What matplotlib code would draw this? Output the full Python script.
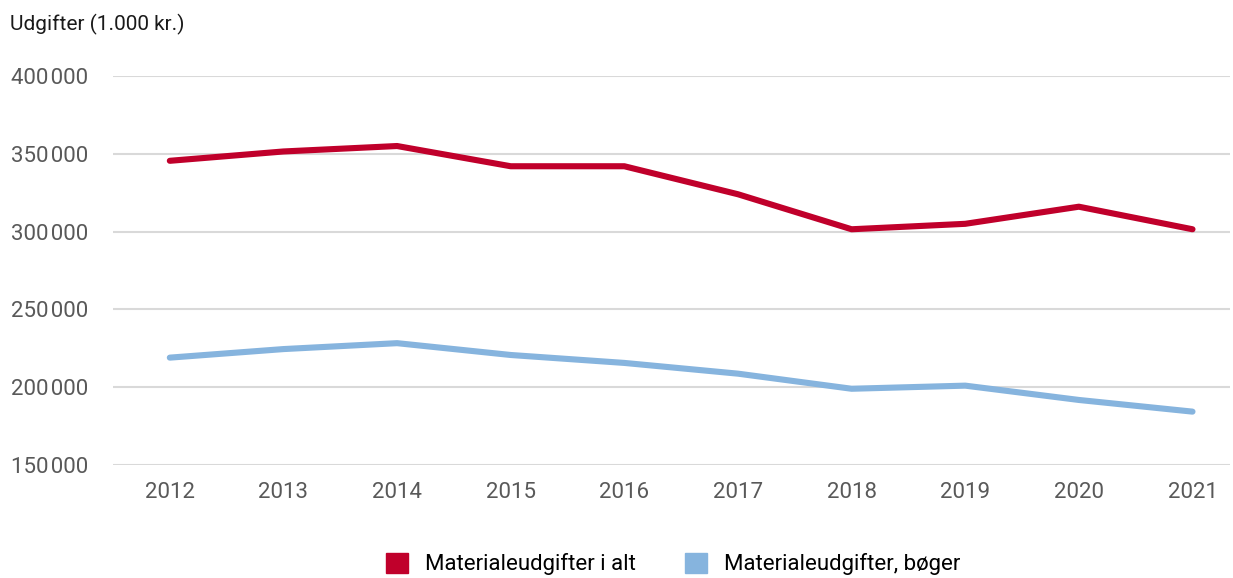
import matplotlib
matplotlib.use("Agg")
import matplotlib.pyplot as plt
from matplotlib.ticker import FuncFormatter
from matplotlib.patches import Patch

years = ["2012", "2013", "2014", "2015", "2016", "2017", "2018", "2019", "2020", "2021"]
total = [345500, 351500, 355000, 342000, 342000, 324000, 301500, 305000, 316000, 301500]
books = [219000, 224500, 228300, 220700, 215600, 208700, 199000, 201000, 191800, 184300]
series_names = ["Materialeudgifter i alt", "Materialeudgifter, bøger"]
y_ticks = [150000, 200000, 250000, 300000, 350000, 400000]

RED = "#C0002B"
BLUE = "#86B4DE"

plt.rcParams["font.family"] = ["Roboto", "DejaVu Sans"]

fig = plt.figure(figsize=(12.33, 5.78), dpi=100)
ax = fig.add_axes([113 / 1233, 1 - 465 / 578, (1230 - 113) / 1233, (465 - 76) / 578])

x = list(range(len(years)))
ax.plot(x, total, color=RED, lw=4.4, solid_capstyle="round", solid_joinstyle="round")
ax.plot(x, books, color=BLUE, lw=4.4, solid_capstyle="round", solid_joinstyle="round")

ax.set_ylim(150000, 400000)
ax.set_xlim(-0.5, 9.33)
ax.set_yticks(y_ticks)
ax.yaxis.set_major_formatter(FuncFormatter(lambda v, p: f"{int(v):,}".replace(",", "\u200a")))
ax.set_xticks(x)
ax.set_xticklabels(years)
ax.grid(axis="y", color="#d9d9d9", lw=1.5)
ax.set_axisbelow(True)
for s in ax.spines.values():
    s.set_visible(False)
ax.tick_params(axis="both", length=0, labelsize=16, labelcolor="#595959")
ax.tick_params(axis="y", pad=18)
ax.tick_params(axis="x", pad=12)

fig.text(10 / 1233, 1 - 24 / 578, "Udgifter (1.000 kr.)", fontsize=15, color="#1a1a1a",
         va="center", ha="left")

handles = [Patch(color=RED), Patch(color=BLUE)]
fig.legend(handles, series_names, loc="center", bbox_to_anchor=(673 / 1233, 1 - 564 / 578),
           ncol=2, frameon=False, fontsize=16, handlelength=1.0, handleheight=1.0,
           columnspacing=2.2, handletextpad=0.75)

fig.savefig("out.png", dpi=100)
